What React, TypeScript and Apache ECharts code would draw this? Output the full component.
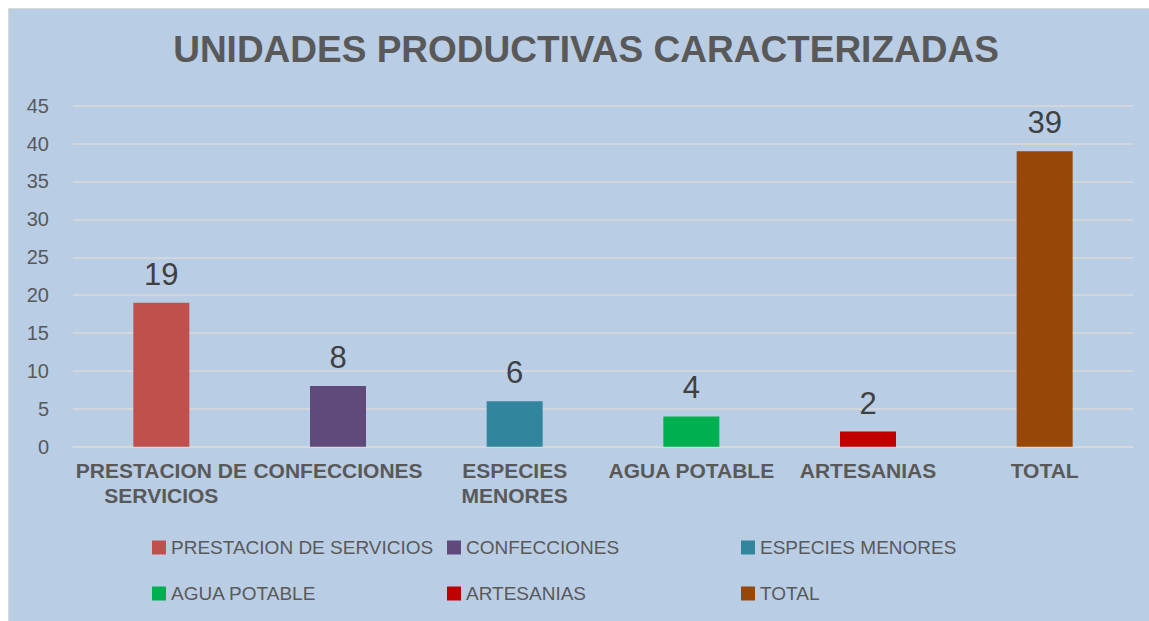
import React, { useEffect, useRef } from "react";
import * as echarts from "echarts";

const categories = [
  "PRESTACION DE SERVICIOS",
  "CONFECCIONES",
  "ESPECIES MENORES",
  "AGUA POTABLE",
  "ARTESANIAS",
  "TOTAL",
];
const axisLabels = [
  "PRESTACION DE\nSERVICIOS",
  "CONFECCIONES",
  "ESPECIES\nMENORES",
  "AGUA POTABLE",
  "ARTESANIAS",
  "TOTAL",
];
const values = [19, 8, 6, 4, 2, 39];
const colors = ["#c0504d", "#604a7b", "#31859c", "#00b050", "#c00000", "#974706"];
const title = "UNIDADES PRODUCTIVAS CARACTERIZADAS";
const legendColumns = [
  ["PRESTACION DE SERVICIOS", "AGUA POTABLE"],
  ["CONFECCIONES", "ARTESANIAS"],
  ["ESPECIES MENORES", "TOTAL"],
];
const legendLefts = [143, 438, 732];

export default function App() {
  const ref = useRef<HTMLDivElement>(null);
  useEffect(() => {
    const chart = echarts.init(ref.current!, null, { renderer: "svg" });
    const font = "'Liberation Sans', Arial, sans-serif";
    chart.setOption({
      animation: false,
      backgroundColor: "#b9cde5",
      title: {
        text: title,
        left: 577,
        top: 22,
        padding: 0,
        textAlign: "center",
        textStyle: { fontFamily: font, fontSize: 37, fontWeight: "bold", color: "#595959" },
      },
      legend: legendColumns.map((col, i) => ({
        data: col,
        orient: "vertical",
        left: legendLefts[i],
        top: 529,
        padding: 0,
        itemGap: 27,
        itemWidth: 14,
        itemHeight: 14,
        icon: "rect",
        textStyle: { fontFamily: font, fontSize: 19, color: "#595959" },
      })),
      grid: { left: 64, right: 16, top: 96.7, bottom: 174.3 },
      xAxis: {
        type: "category",
        data: axisLabels,
        axisTick: { show: false },
        axisLine: { show: true, lineStyle: { color: "#d9d9d9", width: 1.5 } },
        axisLabel: {
          interval: 0,
          hideOverlap: false,
          margin: 11,
          fontFamily: font,
          fontSize: 21,
          fontWeight: "bold",
          color: "#595959",
          lineHeight: 25,
        },
      },
      yAxis: {
        type: "value",
        min: 0,
        max: 45,
        interval: 5,
        axisLine: { show: false },
        axisTick: { show: false },
        splitLine: { lineStyle: { color: "#d9d9d9", width: 1.5 } },
        axisLabel: { margin: 24, fontFamily: font, fontSize: 20, color: "#595959" },
      },
      series: categories.map((name, i) => ({
        name,
        type: "bar",
        stack: "all",
        barWidth: 56,
        itemStyle: { color: colors[i] },
        label: {
          show: true,
          position: "top",
          distance: 13,
          fontFamily: font,
          fontSize: 31,
          color: "#404040",
        },
        data: values.map((v, j) => (j === i ? v : "-")),
      })),
    });
    return () => chart.dispose();
  }, []);
  return (
    <div
      style={{
        position: "fixed",
        left: 8,
        top: 8,
        borderTop: "1px solid #d9d9d9",
        borderLeft: "1px solid #d9d9d9",
        width: 1141,
        height: 613,
      }}
    >
      <div ref={ref} style={{ width: 1140, height: 612 }} />
    </div>
  );
}
